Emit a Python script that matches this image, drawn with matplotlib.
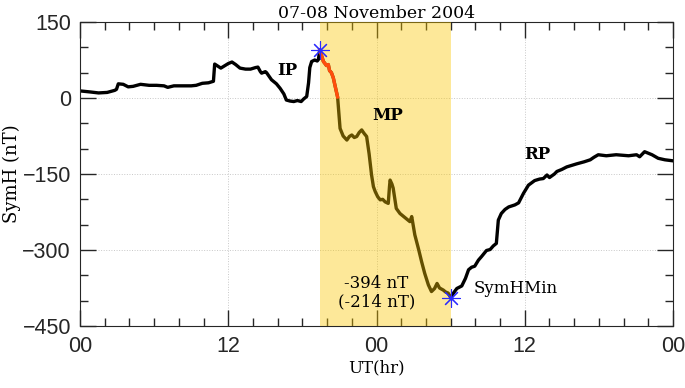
import numpy as np
import matplotlib.pyplot as plt
from matplotlib.ticker import MultipleLocator

# SymH storm profile, 07-08 Nov 2004 (hours since 00 UT on the 7th)
ut_hr = [0.0, 0.8, 1.5, 2.2, 2.8, 2.95, 3.1, 3.5, 3.9, 4.3, 4.9, 5.6, 6.2, 6.8, 7.1, 7.6,
         8.3, 9.0, 9.4, 9.9, 10.4, 10.8, 10.9, 11.4, 11.6, 12.0, 12.3, 12.6, 12.95, 13.4,
         13.8, 14.2, 14.4, 14.6, 14.7, 15.0, 15.1, 15.5, 15.9, 16.2, 16.5, 16.7, 17.0, 17.3,
         17.6, 17.9, 18.1, 18.35, 18.5, 18.6, 18.75, 19.0, 19.2, 19.3, 19.4,
         19.55, 19.7, 19.8, 19.95, 20.1, 20.2, 20.35, 20.5, 20.7, 20.85,
         21.05, 21.3, 21.6, 21.8, 22.0, 22.2, 22.4, 22.6, 22.8, 23.0, 23.2, 23.4, 23.6,
         23.75, 23.9, 24.1, 24.3, 24.5, 24.7, 24.95, 25.05, 25.1, 25.25, 25.35, 25.6, 25.9,
         26.2, 26.5, 26.7, 26.85, 27.1, 27.4, 27.65, 27.9, 28.2, 28.45, 28.7, 28.9, 29.1,
         29.4, 29.6, 29.8, 30.0,
         30.2, 30.5, 30.9, 31.2, 31.45, 31.7, 31.95, 32.25, 32.5, 32.9, 33.2, 33.45, 33.7,
         33.86, 34.1, 34.4, 34.7, 35.2, 35.5, 35.9, 36.3, 36.8, 37.2, 37.5, 37.8, 38.0,
         38.4, 38.6, 39.0, 39.4, 39.8, 40.2, 40.8, 41.3, 41.6, 41.95, 42.6, 43.0, 43.4,
         43.9, 44.4, 45.05, 45.3, 45.7, 46.0, 46.3, 46.8, 47.35, 48.0]
symh = [14, 12, 10, 11, 15, 17, 28, 27, 22, 23, 27, 25, 25, 24, 21, 24,
        24, 24, 25, 29, 30, 33, 67, 59, 62, 68, 71, 66, 59, 57,
        57, 60, 61, 52, 49, 52, 50, 36, 28, 19, 8, -4, -6, -7,
        -5, -7, -2, 3, 30, 60, 72, 75, 73, 76, 95,
        84, 72, 69, 64, 66, 54, 50, 40, 18, 2,
        -60, -75, -83, -76, -73, -78, -76, -68, -63, -70, -76, -110, -152,
        -175, -185, -195, -201, -200, -205, -208, -175, -162, -170, -178, -218, -228,
        -234, -240, -244, -234, -270, -298, -323, -346, -369, -382, -376, -366, -375,
        -379, -383, -385, -394,
        -386, -376, -371, -356, -339, -334, -332, -320, -313, -301, -299, -292, -287,
        -241, -228, -220, -215, -211, -207, -188, -172, -163, -160, -159, -152, -157,
        -150, -145, -141, -136, -133, -130, -126, -122, -117, -112, -114, -113, -112,
        -113, -114, -112, -116, -106, -109, -112, -119, -122, -124]

onset_hr, onset_val = 19.4, 95
red_end_hr = 20.85
min_hr, min_val = 30.0, -394
main_phase = (19.4, 30.0)

ut = np.array(ut_hr)
sy = np.array(symh)

fig = plt.figure(figsize=(6.85, 3.88), dpi=100)
ax = fig.add_axes([0.1168, 0.1598, 0.8657, 0.7835])

ax.plot(ut, sy, color='black', lw=2.4, zorder=2)
ax.axvspan(*main_phase, color=(0.98, 0.78, 0.0), alpha=0.4, lw=0, zorder=3)
red = (ut >= onset_hr) & (ut <= red_end_hr)
ax.plot(ut[red], sy[red], color=(1.0, 0.3, 0.05), lw=2.4, zorder=4)
ax.plot([onset_hr, min_hr], [onset_val, min_val], ls='none', marker=(8, 2, 0),
        ms=13, mew=0.8, color='#2a2aff', zorder=5)

ax.set_xlim(0, 48)
ax.set_ylim(-450, 150)
ax.set_xticks([0, 12, 24, 36, 48])
ax.set_xticklabels(['00', '12', '00', '12', '00'])
ax.set_yticks([-450, -300, -150, 0, 150])
ax.xaxis.set_minor_locator(MultipleLocator(2))
ax.yaxis.set_minor_locator(MultipleLocator(50))
ax.tick_params(which='both', direction='in', top=True, right=True, color='#262626', width=1)
ax.tick_params(which='major', length=11.5)
ax.tick_params(which='minor', length=5.8)
ax.tick_params(axis='y', which='major', pad=6.5)
ax.tick_params(axis='x', which='major', pad=7)
for lab in ax.get_xticklabels() + ax.get_yticklabels():
    lab.set_fontfamily('Liberation Sans')
    lab.set_fontsize(15.5)
    lab.set_color('#262626')
for sp in ax.spines.values():
    sp.set_color('#262626')
ax.grid(True, which='major', ls=':', color='#c8c8c8', lw=0.7, zorder=1)

serif = 'DejaVu Serif'
ax.set_title('07-08 November 2004', family=serif, fontsize=12.5, pad=3)
ax.set_xlabel('UT(hr)', family=serif, fontsize=12, labelpad=2)
ax.set_ylabel('SymH (nT)', family=serif, fontsize=13, labelpad=1)

ax.text(16.75, 55, 'IP', family=serif, fontsize=12, fontweight='bold', ha='center', va='center', zorder=6)
ax.text(24.9, -34, 'MP', family=serif, fontsize=12, fontweight='bold', ha='center', va='center', zorder=6)
ax.text(37.0, -112, 'RP', family=serif, fontsize=12, fontweight='bold', ha='center', va='center', zorder=6)
ax.text(24.0, -385, '-394 nT\n(-214 nT)', family=serif, fontsize=12, ha='center', va='center',
        linespacing=1.1, zorder=6)
ax.text(31.85, -376, 'SymHMin', family=serif, fontsize=12, ha='left', va='center', zorder=6)

fig.savefig('out.png', dpi=100)
